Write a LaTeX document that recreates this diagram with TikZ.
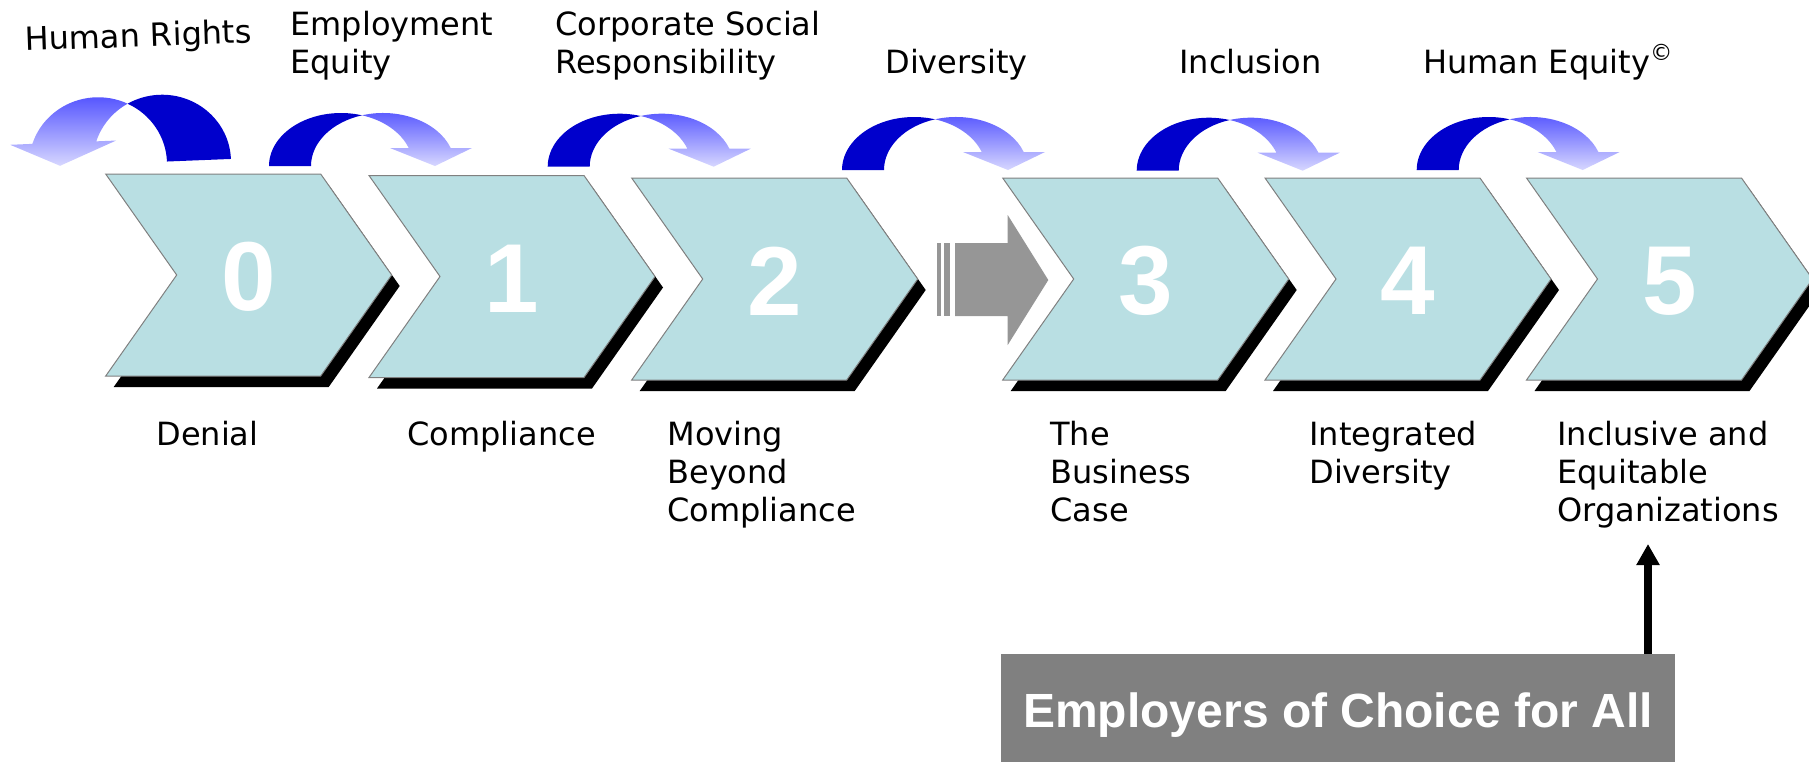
\documentclass[tikz,border=0pt]{standalone}
\usepackage{fontspec}
\setmainfont{DejaVu Sans}
\newfontfamily\arialfont{Liberation Sans}
\usetikzlibrary{arrows.meta}
\definecolor{chevfill}{RGB}{185,223,227}
\definecolor{chevline}{RGB}{128,128,128}
\definecolor{backblue}{RGB}{0,0,204}
\definecolor{topblue}{RGB}{80,80,255}
\definecolor{paleblue}{RGB}{215,215,255}
\definecolor{blockgray}{RGB}{150,150,150}
\definecolor{boxgray}{RGB}{128,128,128}
\tikzset{
  chevron/.style={fill=chevfill, draw=chevline, line width=0.5pt},
  stagenum/.style={font=\arialfont\bfseries\fontsize{49}{49}\selectfont, text=white, inner sep=0pt},
  phase/.style={font=\fontsize{16}{19}\selectfont, align=left, anchor=base west, inner sep=0pt},
  choicebox/.style={fill=boxgray, text=white, font=\arialfont\bfseries\fontsize{24}{24}\selectfont,
    minimum width=337pt, minimum height=61.5pt, inner sep=0pt},
  uparrow/.style={line width=4pt, -{Triangle[width=11pt,length=10.5pt]}},
  backpart/.style={fill=backblue},
  frontpart/.style={top color=topblue, bottom color=paleblue},
}
\def\chevron(#1,#2)#3{%
  \fill[black] (#1+8,#2+11) -- ++(215,0) -- ++(71,101) -- ++(-71,101) -- ++(-215,0) -- ++(71,-101) -- cycle;
  \draw[chevron] (#1,#2) -- ++(215,0) -- ++(71,101) -- ++(-71,101) -- ++(-215,0) -- ++(71,-101) -- cycle;
  \node[stagenum] (stage#3) at (#1+143,#2+103) {#3};
}
\def\bendarrow(#1,#2){%
  \fill[backpart] (#1,#2) arc[start angle=180, end angle=286.96, x radius=72, y radius=53]
    arc[start angle=253.04, end angle=180, x radius=72, y radius=53] -- cycle;
  \shade[frontpart] (#1+93,#2-50.7) arc[start angle=253.04, end angle=340.15, x radius=72, y radius=53]
    -- (#1+203,#2-18) -- (#1+166,#2) -- (#1+121,#2-18) -- (#1+139.7,#2-18)
    arc[start angle=340.15, end angle=286.96, x radius=72, y radius=53] -- cycle;
}

\begin{document}
\begin{tikzpicture}[x=0.5pt, y=-0.5pt]
			%%%%% START %%%%%
			\useasboundingbox (0,0) rectangle (1809,761);
			
			% stages
			\chevron(105.7,174){0}
			\chevron(369,175.5){1}
			\chevron(631.7,178){2}
			\chevron(1002.7,178){3}
			\chevron(1265,178){4}
			\chevron(1526.5,178){5}
			
			% turning arrow over stage 0
			\begin{scope}[rotate around={2.3:(130,163)}]
				\fill[backpart] (231,163) arc[start angle=0, end angle=-117.63, x radius=69, y radius=67]
					arc[start angle=-62.37, end angle=0, x radius=69, y radius=67] -- cycle;
				\shade[frontpart] (130,103.6) arc[start angle=-62.37, end angle=-159.92, x radius=69, y radius=67]
					-- (11,140) -- (60,163) -- (117,140) -- (97.2,140)
					arc[start angle=-159.92, end angle=-117.63, x radius=69, y radius=67] -- cycle;
			\end{scope}
			
			\bendarrow(269,166)
			\bendarrow(547.7,166.7)
			\bendarrow(842,170)
			\bendarrow(1136.7,170.7)
			\bendarrow(1416.7,170)
			
			% step between stage 2 and 3
			\fill[blockgray] (937,243) rectangle (941,316);
			\fill[blockgray] (944,243) rectangle (950,316);
			\fill[blockgray] (955,243) -- (1007.7,243) -- (1007.7,215) -- (1048.3,280)
				-- (1007.7,345) -- (1007.7,316) -- (955,316) -- cycle;
			
			% base of the last line
			\node[phase, rotate=2] (hr) at (25,50.7) {Human Rights};
			\node[phase] (ee) at (290,73) {Employment\\Equity};
			\node[phase] (csr) at (555,73) {Corporate Social\\Responsibility};
			\node[phase] (div) at (885,73.3) {Diversity};
			\node[phase] (inc) at (1179,73) {Inclusion};
			\node[phase] (he) at (1423,73.3) {Human Equity\textsuperscript{\textcopyright}};
			
			\node[phase] (denial) at (156,445) {Denial};
			\node[phase] (compl) at (407,445) {Compliance};
			\node[phase] (beyond) at (667,521) {Moving\\Beyond\\Compliance};
			\node[phase] (business) at (1050,521) {The\\Business\\Case};
			\node[phase] (integr) at (1309,483) {Integrated\\Diversity};
			\node[phase] (equit) at (1557,521) {Inclusive and\\Equitable\\Organizations};
			
			\node[choicebox] (choice) at (1338,715.5) {Employers of Choice for All};
			\coordinate (tipend) at (1648,544);
			\draw[uparrow] (choice.north -| tipend) -- (tipend);
			
			%%%%% END %%%%%
\end{tikzpicture}
\end{document}
